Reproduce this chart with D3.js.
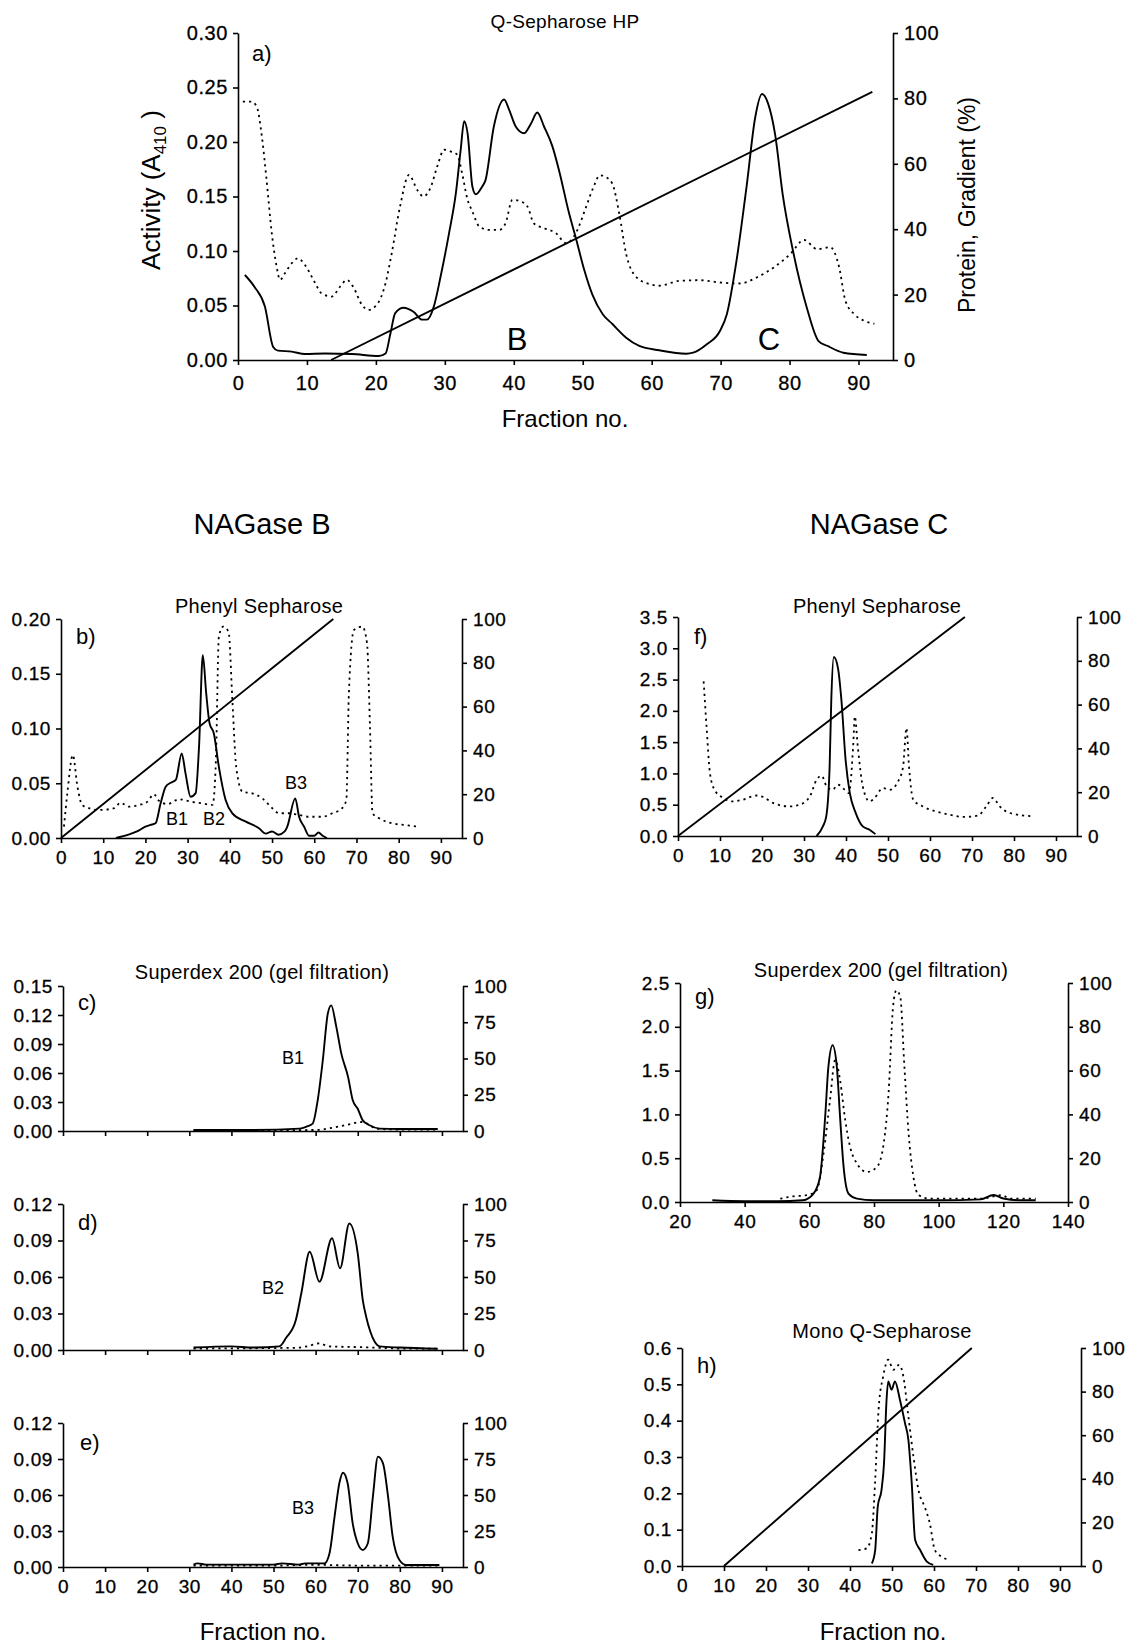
<!DOCTYPE html>
<html>
<head>
<meta charset="utf-8">
<script src="https://cdn.jsdelivr.net/npm/d3@7"></script>
<style>
  body { margin: 0; background: #fff; }
  svg { display: block; font-family: "Liberation Sans", Arial, sans-serif; }
</style>
</head>
<body>
<svg id="chart" width="1130" height="1648"></svg>
<script>
// [fraction no., value] pairs
const aActivity = [[1,0.078],[2.4,0.067],[3.9,0.049],[5.1,0.012],[5.8,0.0086],[7.8,0.0077],[9.7,0.0055],[12.6,0.006],[16.5,0.0055],[20.4,0.0037],[21.4,0.006],[22.1,0.024],[22.8,0.043],[24,0.048],[25.5,0.044],[26.7,0.037],[27.4,0.037],[28.4,0.049],[29.4,0.077],[30.6,0.116],[31.6,0.153],[32.3,0.193],[32.8,0.219],[33.3,0.208],[34,0.159],[34.5,0.152],[35.4,0.159],[35.9,0.165],[37.1,0.214],[38.6,0.239],[39.3,0.23],[40.3,0.214],[41.5,0.208],[42.5,0.217],[43.4,0.227],[44.4,0.214],[45.6,0.196],[46.6,0.173],[48,0.135],[49,0.112],[50.2,0.083],[51.4,0.06],[52.9,0.042],[54.3,0.033],[56.3,0.0205],[58.2,0.0129],[61.1,0.0089],[65,0.0058],[66,0.0067],[68,0.0144],[69.9,0.0266],[70.9,0.042],[72.3,0.091],[73.8,0.161],[75,0.222],[76,0.244],[76.9,0.235],[77.9,0.207],[79,0.152],[80.5,0.1],[82.5,0.048],[84.2,0.0174],[85.5,0.0129],[87.8,0.0067],[91.2,0.0046]];
const aProtein = [[0.7,79],[1.9,79],[2.7,77.6],[3.4,69.4],[4.1,56],[4.9,38.8],[5.6,28.6],[6.1,24.5],[6.8,26.5],[7.8,29.6],[8.7,31.1],[9.7,29.1],[11.2,23.5],[12.1,20.4],[13.6,19.4],[14.8,22.4],[15.8,24.5],[16.7,22.4],[18,16.8],[18.9,15.3],[20.1,16.8],[21.4,23.5],[22.3,32.7],[23.5,46.9],[24.8,56.6],[26,52],[26.9,50],[27.9,52.6],[28.9,59.2],[29.9,64.3],[30.8,63.8],[31.8,62.8],[32.5,57.1],[33.3,49],[34,45.4],[35,40.8],[36.4,39.8],[37.9,39.8],[38.8,41.8],[39.8,49],[41,48.5],[42,46.9],[42.9,41.8],[44.4,40.3],[46.1,38.8],[47.6,35.7],[49,38.8],[50.5,46.9],[51.5,52.6],[52.5,56.5],[53.3,56],[54.3,53.9],[55.3,44.7],[56.3,32.4],[57.8,25.3],[59.7,23.2],[61.1,22.7],[64,24.2],[67,24.4],[69.9,23.7],[72.8,23.4],[75.3,25.3],[77.7,28.3],[80.1,32.4],[82.1,36.7],[84,33.9],[85.9,34.5],[87.2,28.3],[88.1,18.1],[89.4,14],[90.8,12],[92.3,11.1]];
const aGradient = [[13.5,0],[92,82]];

const bActivity = [[13,0],[16,0.003],[18,0.006],[20,0.0103],[21.2,0.0119],[22.4,0.0134],[23.6,0.0317],[24.8,0.0469],[26,0.0505],[27.2,0.053],[28.6,0.0773],[29.5,0.059],[30.7,0.0377],[31.9,0.041],[32.7,0.0834],[33.6,0.167],[34.4,0.132],[35.2,0.1047],[36.2,0.0956],[37.4,0.065],[39,0.0347],[40.6,0.0225],[43.8,0.0149],[46.9,0.0089],[48.5,0.004],[50,0.006],[51.5,0.003],[53,0.006],[53.6,0.0103],[55.5,0.0362],[56.4,0.0195],[57.6,0.0103],[58.8,0.002],[60,0.002],[61,0.005],[62,0.002],[63,0]];
const bProtein = [[0.7,5.2],[1.5,20.4],[2.8,37.9],[3.9,23.4],[5,15.1],[6.6,13.6],[9,12.8],[12.6,13.6],[14.1,16.1],[16.1,14.3],[18.5,15.1],[20.5,16.6],[22,20],[23.2,17],[25.2,15.5],[28,17.7],[30.7,16.6],[33.5,15.8],[35.9,15.1],[36.7,35.6],[37.4,91.9],[38.4,96.5],[39.7,94.2],[40.6,63],[41.5,32.6],[43,21.1],[45.3,20.4],[47.7,18.1],[49.7,14.3],[51.7,11.3],[54,11.3],[56.4,10.5],[58.8,9.7],[61.9,9.7],[64.3,11.3],[66.6,13.6],[67.6,17.4],[68.2,66],[69.4,95],[71.4,96.5],[72.5,88.9],[73.2,50.8],[73.8,11.3],[75.4,9],[78.5,6.7],[81.7,5.9],[84.4,5.2]];
const bGradient = [[0,0],[64.5,100]];

const cActivity = [[31,0.001],[45,0.001],[56.2,0.0025],[57.8,0.0045],[59.3,0.0077],[60.5,0.032],[61.7,0.073],[62.9,0.1217],[63.7,0.13],[64.9,0.108],[66.1,0.08],[67.7,0.056],[68.8,0.032],[70,0.023],[71.2,0.011],[72.8,0.0059],[75.2,0.0025],[80,0.002],[89,0.002]];
const cProtein = [[31,0.5],[60,0.7],[64.1,2.3],[68,4.6],[70.8,6.2],[72,5.5],[74.4,1.6],[80,1],[89,1]];

const dActivity = [[31,0.002],[40,0.003],[45,0.002],[51.4,0.003],[53,0.01],[55.3,0.0247],[56.6,0.0466],[58.6,0.0808],[60.9,0.0561],[63.9,0.0918],[65.8,0.0671],[68,0.104],[70,0.0795],[71.2,0.041],[72,0.0274],[73,0.015],[74,0.007],[75.2,0.003],[80,0.002],[89,0.001]];
const dProtein = [[31,1],[55,1.5],[58,2.5],[60.9,4.6],[63,2.5],[70,2],[75,1.5],[80,1],[89,1]];

const eActivity = [[31,0.002],[32,0.003],[34,0.002],[50,0.002],[52,0.003],[56,0.002],[57.5,0.003],[62.1,0.003],[63.3,0.0114],[64.5,0.042],[65.7,0.071],[66.5,0.0786],[67.6,0.0698],[68.8,0.0364],[70,0.0198],[71.2,0.0142],[72.4,0.0198],[73.6,0.0586],[74.8,0.092],[76,0.0864],[77.2,0.0586],[78.3,0.0253],[79.9,0.0058],[81.5,0.0017],[89.4,0.0017]];
const eProtein = [[31,1],[50,1],[60,1.5],[70,1],[89,1]];

const fActivity = [[33,0],[34.5,0.153],[35.3,0.313],[36.1,1.11],[36.5,2.18],[37.1,2.86],[38.1,2.68],[38.9,2.18],[39.9,1.22],[40.9,0.69],[42.3,0.37],[44,0.153],[45.6,0.1],[47,0.03]];
const fProtein = [[6.1,70.6],[6.8,50],[7.6,28.8],[8.7,21.1],[10.7,17.4],[13.1,15.8],[15.5,16.6],[18.7,18.5],[20.3,17.8],[22.6,15.1],[26.6,13.5],[29,14.3],[31.4,18.1],[33,25.7],[34.2,27.5],[35.4,22.6],[36.8,21.1],[38.1,23.4],[39.7,21.1],[40.7,19.6],[41.7,40.9],[42.1,54.6],[42.8,40.9],[44,22.6],[45.6,15.8],[46.8,17.4],[48.8,21.9],[50.4,21.1],[52.4,24.9],[53.6,31.8],[54.4,49.3],[55,31.8],[56,16.6],[58.3,13.5],[61.5,11.2],[64.7,9.7],[67.9,8.7],[71.4,9.3],[73.4,13.5],[75,17.4],[76.6,13.5],[79,10.5],[84.6,9]];
const fGradient = [[0,0],[68.3,100]];

const gActivity = [[30,0.02],[40,0.01],[50,0.01],[58,0.02],[61.3,0.096],[63.3,0.286],[64.9,0.973],[65.9,1.545],[67.2,1.79],[68.5,1.545],[69.5,0.973],[70.6,0.4],[72.1,0.096],[74.7,0.039],[80,0.02],[100,0.02],[113,0.03],[117,0.08],[120,0.04],[125,0.02],[130,0.02]];
const gProtein = [[51,1.5],[55.1,2.6],[59.2,3.1],[62.3,5.4],[64.4,22.2],[66.4,46.6],[68,64.9],[69.5,55.7],[71.1,37.4],[72.6,25.2],[74.7,17.6],[77.8,13.7],[80.9,16],[83,26.7],[84.5,49.6],[85.9,89.3],[86.9,96.6],[88.1,93.9],[89.4,61.8],[90.7,31.3],[92.2,11.4],[93.8,3.1],[97.4,1.5],[112.9,1.5],[119.6,3.1],[122.2,1.5],[130,1.5]];

const hActivity = [[45.2,0.007],[46,0.044],[46.6,0.163],[47.5,0.209],[48.1,0.283],[48.7,0.457],[49.1,0.508],[49.9,0.485],[50.7,0.508],[51.9,0.457],[53.1,0.393],[53.9,0.347],[54.7,0.228],[55.5,0.072],[56.7,0.044],[58.3,0.012],[59.8,0.003]];
const hProtein = [[42,7.3],[44,8.1],[45.2,15],[46,39.5],[46.8,71.7],[47.9,87],[49.1,94.6],[50.3,90],[51.7,92.3],[52.7,87],[53.9,68.6],[55.1,50.2],[56.3,34.9],[57.9,26.5],[59,19.6],[60.2,7.3],[61.8,4.3],[63.8,2.8]];
const hGradient = [[10,0],[69,100]];

// axis tick values
const xTicks95 = d3.range(0, 91, 10);
const xTicksG = d3.range(20, 141, 20);
const rTicks20 = d3.range(0, 101, 20);
const rTicks25 = d3.range(0, 101, 25);

const svg = d3.select("#chart");
const FONT = "'Liberation Sans', Arial, sans-serif";
const f2 = d3.format(".2f"), f1 = d3.format(".1f");

const panels = [
  { x0: 238, x1: 893, y0: 33, y1: 360, xDom: [0, 95], xT: xTicks95, xLab: true, yMax: 0.30, yStep: 0.05, fmt: f2, rT: rTicks20,
    act: aActivity, prot: aProtein, grad: aGradient, title: "Q-Sepharose HP", tx: 565, ty: 28, tfs: 19, letter: "a)", lx: 252, ly: 61, fs: 20, pad: 11 },
  { x0: 61, x1: 462, y0: 619, y1: 838, xDom: [0, 95], xT: xTicks95, xLab: true, yMax: 0.20, yStep: 0.05, fmt: f2, rT: rTicks20,
    act: bActivity, prot: bProtein, grad: bGradient, title: "Phenyl Sepharose", tx: 259, ty: 613, letter: "b)", lx: 76, ly: 644,
    notes: [["B1", 177, 825], ["B2", 214, 825], ["B3", 296, 789]] },
  { x0: 63, x1: 463, y0: 986, y1: 1131, xDom: [0, 95], xT: xTicks95, xLab: false, yMax: 0.15, yStep: 0.03, fmt: f2, rT: rTicks25,
    act: cActivity, prot: cProtein, title: "Superdex 200 (gel filtration)", tx: 262, ty: 979, letter: "c)", lx: 78, ly: 1010,
    notes: [["B1", 293, 1064]] },
  { x0: 63, x1: 463, y0: 1204, y1: 1350, xDom: [0, 95], xT: xTicks95, xLab: false, yMax: 0.12, yStep: 0.03, fmt: f2, rT: rTicks25,
    act: dActivity, prot: dProtein, letter: "d)", lx: 78, ly: 1230, notes: [["B2", 273, 1294]] },
  { x0: 63, x1: 463, y0: 1423, y1: 1567, xDom: [0, 95], xT: xTicks95, xLab: true, yMax: 0.12, yStep: 0.03, fmt: f2, rT: rTicks25,
    act: eActivity, prot: eProtein, letter: "e)", lx: 80, ly: 1450, notes: [["B3", 303, 1514]] },
  { x0: 678, x1: 1077, y0: 617, y1: 836, xDom: [0, 95], xT: xTicks95, xLab: true, yMax: 3.5, yStep: 0.5, fmt: f1, rT: rTicks20,
    act: fActivity, prot: fProtein, grad: fGradient, title: "Phenyl Sepharose", tx: 877, ty: 613, letter: "f)", lx: 694, ly: 644 },
  { x0: 680, x1: 1068, y0: 983, y1: 1202, xDom: [20, 140], xT: xTicksG, xLab: true, yMax: 2.5, yStep: 0.5, fmt: f1, rT: rTicks20,
    act: gActivity, prot: gProtein, title: "Superdex 200 (gel filtration)", tx: 881, ty: 977, letter: "g)", lx: 695, ly: 1004 },
  { x0: 682, x1: 1081, y0: 1348, y1: 1566, xDom: [0, 95], xT: xTicks95, xLab: true, yMax: 0.6, yStep: 0.1, fmt: f1, rT: rTicks20,
    act: hActivity, prot: hProtein, grad: hGradient, title: "Mono Q-Sepharose", tx: 882, ty: 1338, letter: "h)", lx: 697, ly: 1373 }
];

function styleAxis(g, fs) {
  g.selectAll("path, line").attr("stroke", "#000").attr("stroke-width", 1.6);
  g.selectAll("text").attr("font-family", FONT).attr("font-size", fs).attr("fill", "#000")
    .attr("letter-spacing", 0.6).attr("stroke", "#000").attr("stroke-width", 0.3);
}

panels.forEach(p => {
  const fs = p.fs || 19;
  const x = d3.scaleLinear().domain(p.xDom).range([p.x0, p.x1]);
  const y = d3.scaleLinear().domain([0, p.yMax]).range([p.y1, p.y0]);
  const yr = d3.scaleLinear().domain([0, 100]).range([p.y1, p.y0]);
  const g = svg.append("g");

  const yVals = d3.range(0, Math.round(p.yMax / p.yStep) + 1).map(i => +(i * p.yStep).toFixed(3));

  g.append("g").attr("transform", `translate(${p.x0},0)`)
    .call(d3.axisLeft(y).tickValues(yVals).tickFormat(p.fmt).tickSize(5).tickPadding(5).tickSizeOuter(0))
    .call(s => styleAxis(s, fs));
  g.append("g").attr("transform", `translate(${p.x1},0)`)
    .call(d3.axisRight(yr).tickValues(p.rT).tickSize(5).tickPadding(6).tickSizeOuter(0))
    .call(s => styleAxis(s, fs));
  g.append("g").attr("transform", `translate(0,${p.y1})`)
    .call(d3.axisBottom(x).tickValues(p.xT).tickFormat(p.xLab ? d3.format("d") : "").tickSize(5).tickPadding(p.pad || 8).tickSizeOuter(0))
    .call(s => styleAxis(s, fs));

  const line = d3.line().x(d => x(d[0])).curve(d3.curveMonotoneX);

  g.append("path").datum(p.prot)
    .attr("d", line.y(d => yr(d[1])))
    .attr("fill", "none").attr("stroke", "#000").attr("stroke-width", 1.8)
    .attr("stroke-dasharray", "2.2,4");

  g.append("path").datum(p.act)
    .attr("d", line.y(d => y(d[1])))
    .attr("fill", "none").attr("stroke", "#000").attr("stroke-width", 1.9);

  if (p.grad) {
    g.append("path").datum(p.grad)
      .attr("d", d3.line().x(d => x(d[0])).y(d => yr(d[1])))
      .attr("fill", "none").attr("stroke", "#000").attr("stroke-width", 1.9);
  }

  if (p.title) {
    g.append("text").attr("x", p.tx).attr("y", p.ty).attr("text-anchor", "middle")
      .attr("font-size", p.tfs || 20).attr("letter-spacing", 0.3).attr("font-family", FONT).text(p.title);
  }
  g.append("text").attr("x", p.lx).attr("y", p.ly)
    .attr("font-size", 22).attr("font-family", FONT).text(p.letter);

  (p.notes || []).forEach(n => {
    g.append("text").attr("x", n[1]).attr("y", n[2]).attr("text-anchor", "middle")
      .attr("font-size", 18).attr("font-family", FONT).text(n[0]);
  });
});

// panel a extras
svg.append("text").attr("x", 517).attr("y", 350).attr("text-anchor", "middle")
  .attr("font-size", 31).attr("font-family", FONT).text("B");
svg.append("text").attr("x", 769).attr("y", 350).attr("text-anchor", "middle")
  .attr("font-size", 31).attr("font-family", FONT).text("C");

const yl = svg.append("text").attr("transform", "translate(160,190) rotate(-90)")
  .attr("text-anchor", "middle").attr("font-size", 26).attr("font-family", FONT);
yl.append("tspan").text("Activity (A");
yl.append("tspan").attr("font-size", 17).attr("dy", 6).text("410");
yl.append("tspan").attr("dy", -6).text(" )");

svg.append("text").attr("transform", "translate(975,205) rotate(-90)")
  .attr("text-anchor", "middle").attr("font-size", 23).attr("font-family", FONT)
  .text("Protein, Gradient (%)");

svg.append("text").attr("x", 565).attr("y", 427).attr("text-anchor", "middle")
  .attr("font-size", 24).attr("font-family", FONT).text("Fraction no.");

svg.append("text").attr("x", 262).attr("y", 534).attr("text-anchor", "middle")
  .attr("font-size", 29).attr("font-family", FONT).text("NAGase B");
svg.append("text").attr("x", 879).attr("y", 534).attr("text-anchor", "middle")
  .attr("font-size", 29).attr("font-family", FONT).text("NAGase C");

svg.append("text").attr("x", 263).attr("y", 1640).attr("text-anchor", "middle")
  .attr("font-size", 24).attr("font-family", FONT).text("Fraction no.");
svg.append("text").attr("x", 883).attr("y", 1640).attr("text-anchor", "middle")
  .attr("font-size", 24).attr("font-family", FONT).text("Fraction no.");
</script>
</body>
</html>
